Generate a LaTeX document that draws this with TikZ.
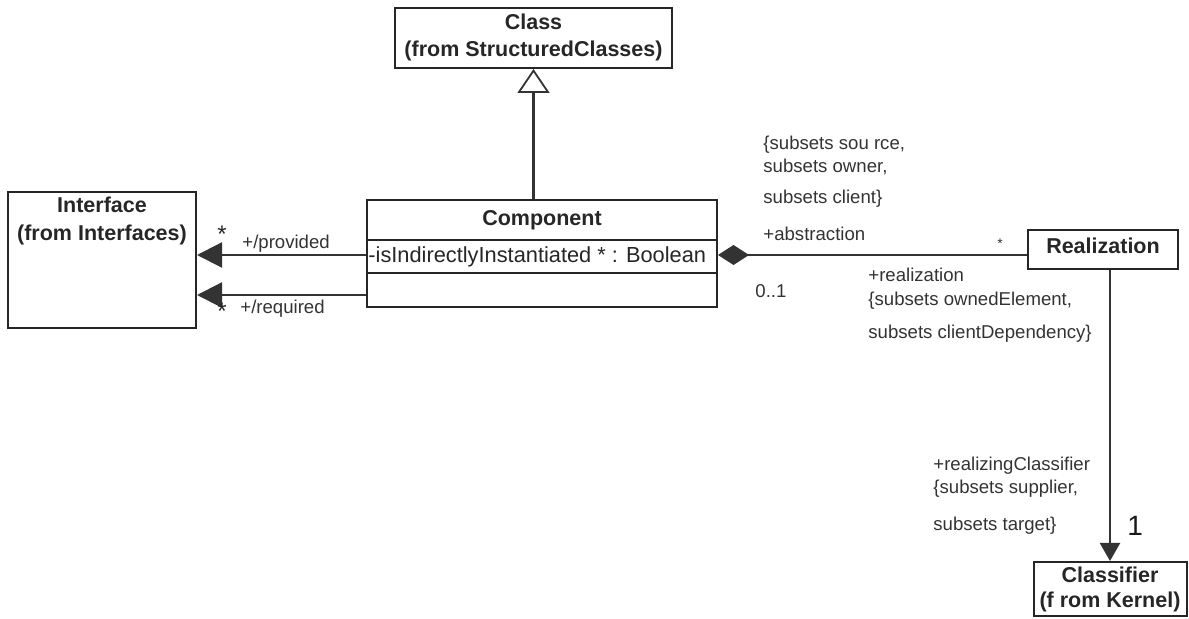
\documentclass[tikz,border=0pt]{standalone}
\usepackage{fontspec}
\setmainfont{Liberation Sans}
\usetikzlibrary{arrows.meta}
\begin{document}
\begin{tikzpicture}[x=0.5pt,y=-0.5pt,
  box/.style={draw=black!85,line width=1pt,inner sep=0pt},
  title/.style={font=\fontsize{10.75}{12}\selectfont\bfseries,text=black!85,inner sep=0pt,text height=0.75em,text depth=0.2em},
  lbl/.style={font=\fontsize{9.3}{11}\selectfont,text=black!80,inner sep=0pt,anchor=west,text height=0.75em,text depth=0.2em},
  star/.style={font=\fontsize{12}{13}\selectfont,text=black!85,inner sep=0pt},
  conn/.style={draw=black!80,line width=1.1pt},
  gen/.style={conn,-{Triangle[open,length=12pt,width=16pt,fill=white,line width=0.9pt]}},
  nav/.style={conn,-{Triangle[length=12.5pt,width=12.5pt]}},
  navs/.style={conn,-{Triangle[length=9pt,width=10pt]}},
  comp/.style={conn,{Diamond[length=15.5pt,width=10pt]}-}
]
\useasboundingbox (0,0) rectangle (1189,619);

% classes
\node[box,minimum width=138.5pt,minimum height=30pt] (cls) at (533.5,38) {};
\node[title] (clsa) at (533.5,24) {Class};
\node[title] (clsb) at (533.5,51) {(from StructuredClasses)};

\node[box,minimum width=94pt,minimum height=68pt] (iface) at (102,260) {};
\node[title] (ifa) at (102,207) {Interface};
\node[title] (ifb) at (102,235) {(from Interfaces)};

\node[box,minimum width=175pt,minimum height=53.5pt] (cmp) at (542,253.5) {};
\node[title] (cmpn) at (542,220) {Component};
\draw[draw=black!85,line width=1pt] (367,240) -- (717,240) (367,273) -- (717,273);
\node[font=\fontsize{10.9}{12}\selectfont,text=black!85,inner sep=0pt,anchor=west,text height=0.75em,text depth=0.2em] (attr) at (368,257) {-isIndirectlyInstantiated * : Boolean};

\node[box,minimum width=75pt,minimum height=19.5pt] (real) at (1103,249.5) {};
\node[title] (realn) at (1103,248) {Realization};

\node[box,minimum width=76.5pt,minimum height=27pt] (cfr) at (1110,589) {};
\node[title] (cfra) at (1110,577) {Classifier};
\node[title] (cfrb) at (1110,602) {(f rom Kernel)};

% connectors
\coordinate (prov) at (0,255);
\coordinate (reqd) at (0,295);
\coordinate (abst) at (0,255);
\draw[gen] (cls.south |- cmp.north) -- (cls.south);
\draw[nav] (cmp.west |- prov) -- (iface.east |- prov);
\draw[nav] (cmp.west |- reqd) -- (iface.east |- reqd);
\draw[comp] (cmp.east |- abst) -- (real.west |- abst);
\draw[navs] (cfr.north |- real.south) -- (cfr.north);

% association end labels
\node[star] (ps) at (222,234) {*};
\node[lbl] (pl) at (242,243) {+/provided};
\node[star] (rs) at (222,311) {*};
\node[lbl] (rl) at (240,308) {+/required};

\node[lbl] (a1) at (763,144) {\{subsets sou rce,};
\node[lbl] (a2) at (763,167) {subsets owner,};
\node[lbl] (a3) at (763,198) {subsets client\}};
\node[lbl] (a4) at (763,235) {+abstraction};
\node[lbl,font=\fontsize{7}{8}\selectfont] (as) at (997,243) {*};
\node[lbl] (mult) at (755,292) {0..1};
\node[lbl] (r1) at (868,276) {+realization};
\node[lbl] (r2) at (868,300) {\{subsets ownedElement,};
\node[lbl] (r3) at (868,333) {subsets clientDependency\}};

\node[lbl] (c1) at (933,465) {+realizingClassifier};
\node[lbl] (c2) at (933,488) {\{subsets supplier,};
\node[lbl] (c3) at (933,525) {subsets target\}};
\node[lbl,font=\fontsize{14}{15}\selectfont,text=black!90] (one) at (1127,530) {1};
\end{tikzpicture}
\end{document}
